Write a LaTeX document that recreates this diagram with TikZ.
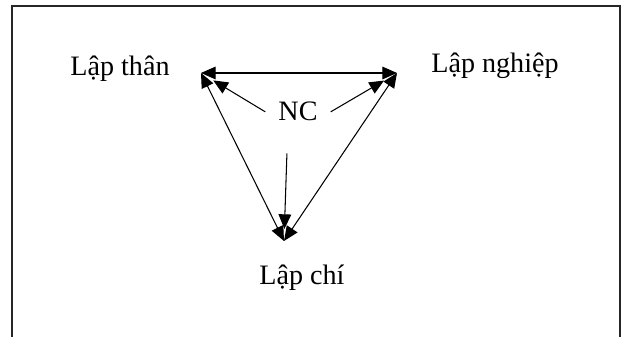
\documentclass[tikz,border=0pt]{standalone}
\usepackage{fontspec}
\setmainfont{Liberation Serif}
\usetikzlibrary{arrows.meta}

\tikzset{
    lbl/.style={font=\fontsize{24}{28}\selectfont, anchor=base, inner sep=0pt},
    tip/.tip={Triangle[length=0.44cm, width=0.38cm]},
    side/.style={line width=0.9pt, tip-tip},
    ray/.style={line width=0.9pt, -tip}
}

\begin{document}
\begin{tikzpicture}
        \useasboundingbox (0, 0) rectangle (18.75, 10.11);
        % frame, open at the bottom
        \draw[line width=1.2pt, black!85] (0.36, 0) -- (0.36, 9.93) -- (18.6, 9.93) -- (18.6, 0);

        \node[lbl] (than) at (3.6, 7.84) {Lập thân};
        \node[lbl] (nghiep) at (14.85, 7.92) {Lập nghiệp};
        \node[lbl] (chi) at (9.06, 1.56) {Lập chí};
        \node[lbl, inner xsep=0.39cm] (nc) at (8.94, 6.48) {NC};

        \coordinate (tl) at (6.03, 7.92);
        \coordinate (tr) at (11.91, 7.92);
        \coordinate (bot) at (8.52, 2.88);

        \draw[side] (tl) -- (tr);
        \draw[side] (tl) -- (bot);
        \draw[side] (tr) -- (bot);

        \draw[ray, shorten >=0.43cm] (nc.west) -- (tl);
        \draw[ray, shorten >=0.45cm] (nc.east) -- (tr);
        \draw[ray, shorten <=0.96cm, shorten >=0.36cm] ([xshift=-0.3cm]nc.south) -- (bot);
\end{tikzpicture}
\end{document}
